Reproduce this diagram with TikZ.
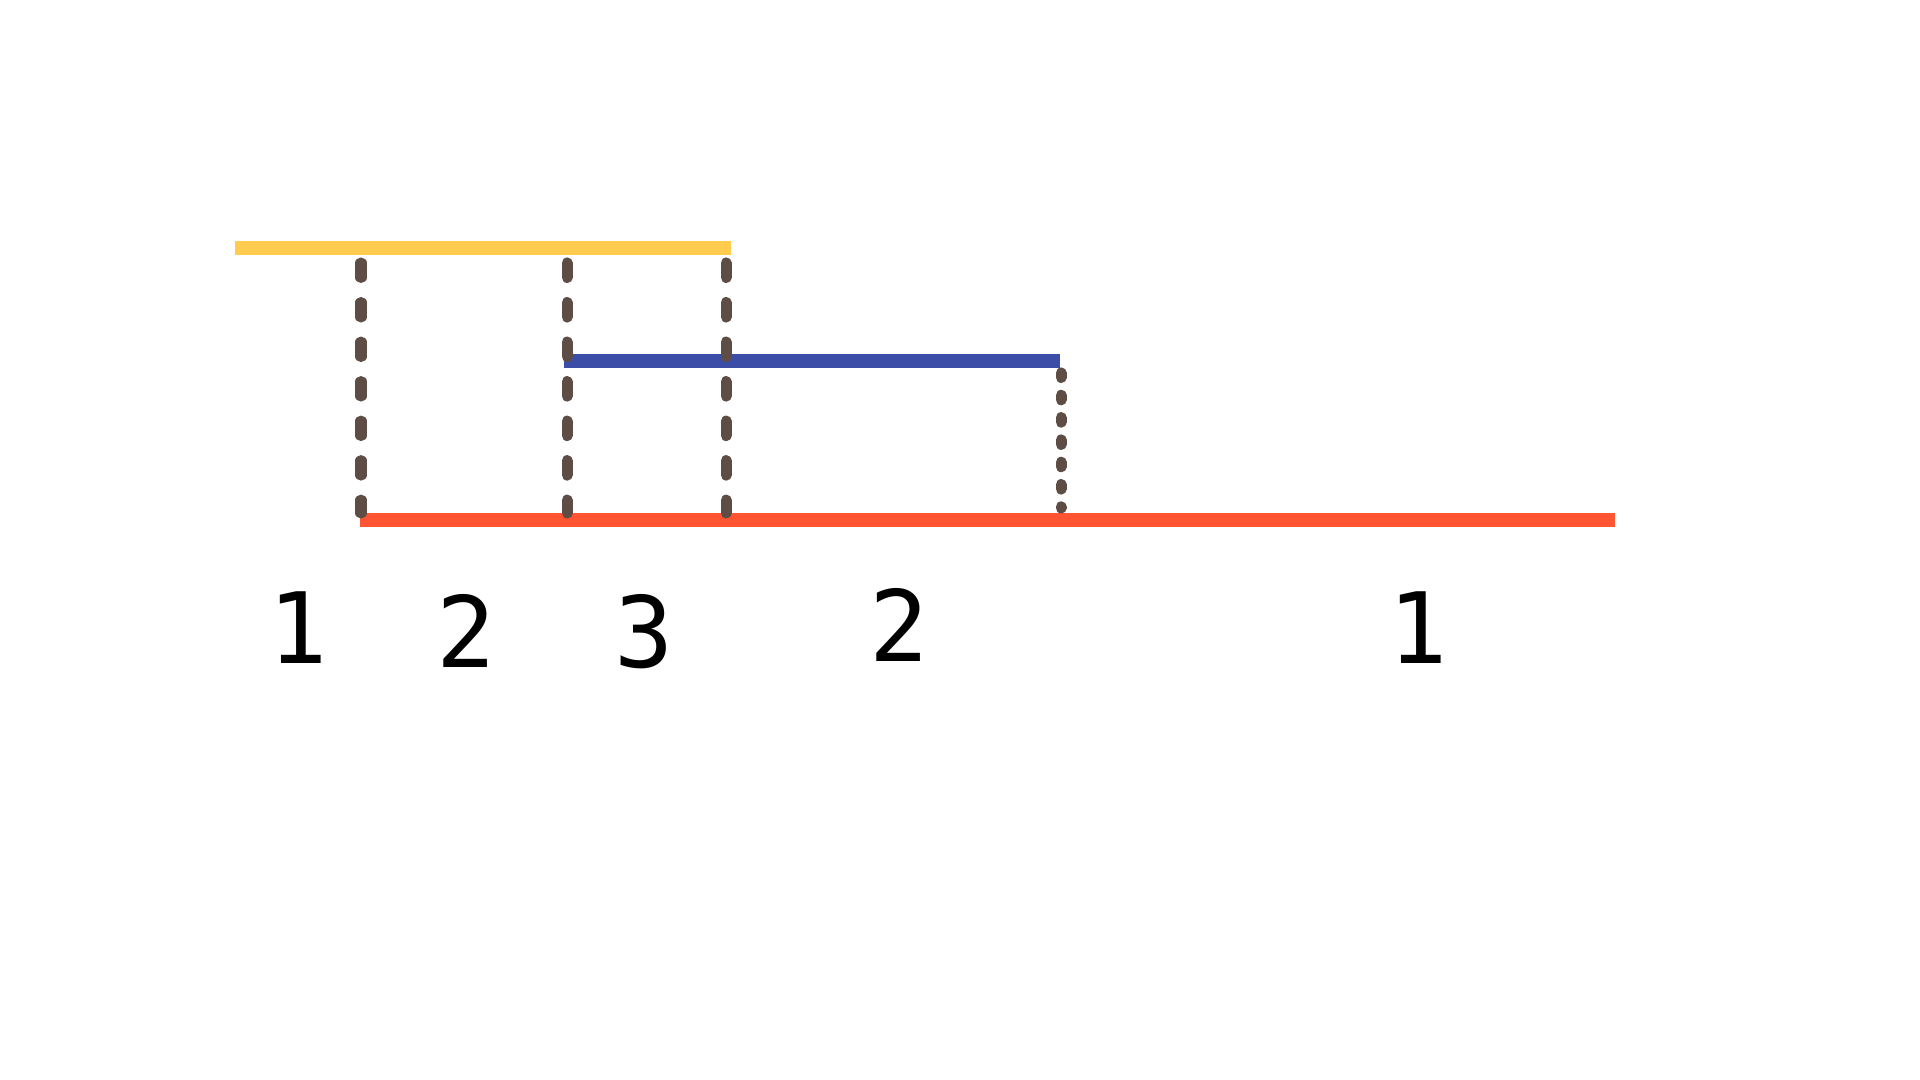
\documentclass[tikz,border=0pt]{standalone}
\usepackage{fontspec}
\setmonofont{DejaVu Sans Mono}
\usetikzlibrary{positioning}
\definecolor{spanyellow}{RGB}{255,204,77}
\definecolor{spanblue}{RGB}{59,77,167}
\definecolor{spanred}{RGB}{255,85,51}
\definecolor{guide}{RGB}{94,77,69}
\tikzset{
    span/.style={line width=0.135cm},
    guideline/.style={line width=0.11cm, line cap=round, color=guide, dash pattern=on 0.145cm off 0.25cm},
    guidedot/.style={line width=0.11cm, line cap=round, color=guide, dash pattern=on 0.045cm off 0.178cm},
    count/.style={font=\ttfamily\fontsize{28}{30}\selectfont, inner sep=0pt}
}
\begin{document}
\begin{tikzpicture}[x=0.01cm, y=-0.01cm]
    \useasboundingbox (0,0) rectangle (1920,1080);
    % Spans
    \coordinate (ya) at (235,248);
    \coordinate (yb) at (731,248);
    \coordinate (ba) at (564,361);
    \coordinate (bb) at (1060,361);
    \coordinate (ra) at (360,520);
    \coordinate (rb) at (1615,520);
    \draw [span, spanyellow] (ya) -- (yb);
    \draw [span, spanblue] (ba) -- (bb);
    \draw [span, spanred] (ra) -- (rb);

    % Guides
    \coordinate (g1t) at (361,263);
    \coordinate (g1b) at (361,513);
    \coordinate (g2t) at (567,263);
    \coordinate (g2b) at (567,513);
    \coordinate (g3t) at (726,263);
    \coordinate (g3b) at (726,513);
    \coordinate (g4t) at (1061,373);
    \coordinate (g4b) at (1061,508);
    \draw [guideline] (g1t) -- (g1b);
    \draw [guideline] (g2t) -- (g2b);
    \draw [guideline] (g3t) -- (g3b);
    \draw [guidedot] (g4t) -- (g4b);

    % Counts
    \node (c1) [count] at (298,628) {1};
    \node (c2) [count] at (466,631) {2};
    \node (c3) [count] at (644,632) {3};
    \node (c4) [count] at (899,625) {2};
    \node (c5) [count] at (1418,628) {1};
\end{tikzpicture}
\end{document}
